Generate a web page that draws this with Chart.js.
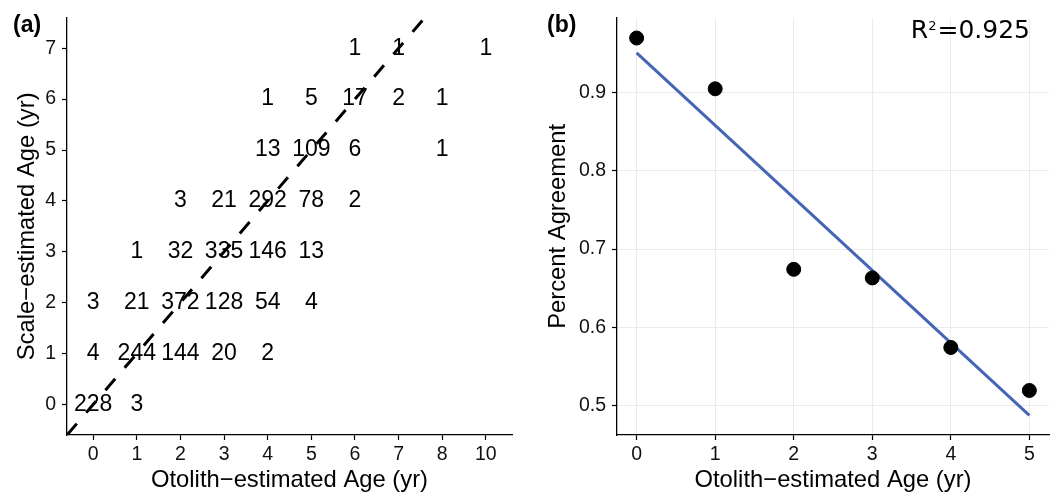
<!DOCTYPE html>
<html>
<head>
<meta charset="utf-8">
<script src="https://cdn.jsdelivr.net/npm/chart.js@4.4.1/dist/chart.umd.min.js"></script>
<style>
  html, body { margin: 0; padding: 0; background: #fff; }
  #wrap { position: relative; width: 1057px; height: 495px; }
  #chartA { position: absolute; left: 0; top: 0; }
  #chartB { position: absolute; left: 530px; top: 0; }
</style>
</head>
<body>
<div id="wrap">
  <canvas id="chartA" width="530" height="495"></canvas>
  <canvas id="chartB" width="527" height="495"></canvas>
</div>
<script>
// Panel (a): otolith age (columns) vs scale age (rows), fish counts
const otolithAges = ['0', '1', '2', '3', '4', '5', '6', '7', '8', '10'];
const scaleAges = ['0', '1', '2', '3', '4', '5', '6', '7'];
// one row per scale age, one entry per otolith age column
const ageCounts = [
  [228, 3, null, null, null, null, null, null, null, null],
  [4, 244, 144, 20, 2, null, null, null, null, null],
  [3, 21, 372, 128, 54, 4, null, null, null, null],
  [null, 1, 32, 335, 146, 13, null, null, null, null],
  [null, null, 3, 21, 292, 78, 2, null, null, null],
  [null, null, null, null, 13, 109, 6, null, 1, null],
  [null, null, null, null, 1, 5, 17, 2, 1, null],
  [null, null, null, null, null, null, 1, 1, null, 1]
];

// Panel (b): percent agreement by otolith age, with linear fit
const agreeAges = [0, 1, 2, 3, 4, 5];
const agreePct = [0.970, 0.905, 0.674, 0.663, 0.574, 0.519];
const fitAges = [0, 5];
const fitPct = [0.951, 0.487];
const agreeTicks = [0.5, 0.6, 0.7, 0.8, 0.9];
const fitR2 = '0.925';

const SANS = '"Liberation Sans", Arial, sans-serif';
const tickFont = { family: SANS, size: 19.5 };
const titleFont = { family: SANS, size: 23.8 };
const inkColor = '#111';

Chart.defaults.font.family = SANS;

// panel tag, "(a)" / "(b)"
const panelTag = (id, text, x) => ({
  id,
  afterDraw(chart) {
    const ctx = chart.ctx;
    ctx.save();
    ctx.font = 'bold 23px ' + SANS;
    ctx.fillStyle = '#000';
    ctx.textAlign = 'left';
    ctx.textBaseline = 'middle';
    ctx.fillText(text, x, 26);
    ctx.restore();
  }
});

// count numbers placed on the (otolith, scale) grid
const countLabels = {
  id: 'countLabels',
  afterDatasetsDraw(chart) {
    const { ctx, scales: { x, y } } = chart;
    ctx.save();
    ctx.font = '23px ' + SANS;
    ctx.fillStyle = '#000';
    ctx.textAlign = 'center';
    ctx.textBaseline = 'middle';
    ageCounts.forEach((row, yi) => row.forEach((n, xi) => {
      if (n == null) return;
      ctx.fillText(String(n), x.getPixelForValue(xi), y.getPixelForValue(yi));
    }));
    ctx.restore();
  }
};

// R^2 annotation with a superscript 2
const r2Label = {
  id: 'r2Label',
  afterDraw(chart) {
    const { ctx, chartArea } = chart;
    const big = '25px "DejaVu Sans", sans-serif';
    const small = '13px "DejaVu Sans", sans-serif';
    const rest = '=' + fitR2;
    ctx.save();
    ctx.fillStyle = '#000';
    ctx.textBaseline = 'alphabetic';
    ctx.textAlign = 'left';
    ctx.font = big;
    const wR = ctx.measureText('R').width;
    const wRest = ctx.measureText(rest).width;
    ctx.font = small;
    const wSup = ctx.measureText('2').width + 1;
    const right = chartArea.right - 19;
    const base = chartArea.top + 20;
    const x = right - wRest - wSup - wR;
    ctx.font = big;
    ctx.fillText('R', x, base);
    ctx.font = small;
    ctx.fillText('2', x + wR, base - 8);
    ctx.font = big;
    ctx.fillText(rest, x + wR + wSup, base);
    ctx.restore();
  }
};

const axisBorder = { display: true, color: '#000', width: 1.3 };

// Panel (a)
const pad = 0.6;
new Chart(document.getElementById('chartA'), {
  type: 'scatter',
  data: {
    datasets: [{
      // 1:1 line, clipped to the panel
      data: [{ x: -pad, y: -pad }, { x: otolithAges.length - 1 + pad, y: otolithAges.length - 1 + pad }],
      showLine: true,
      borderColor: '#000',
      borderWidth: 3,
      borderDash: [15, 14.5],
      pointRadius: 0
    }]
  },
  options: {
    responsive: false,
    animation: false,
    layout: { padding: { top: 17, right: 18, left: 0, bottom: 0 } },
    plugins: { legend: { display: false }, tooltip: { enabled: false } },
    scales: {
      x: {
        type: 'linear',
        min: -pad,
        max: otolithAges.length - 1 + pad,
        afterBuildTicks: s => { s.ticks = otolithAges.map((_, i) => ({ value: i })); },
        afterFit: s => { s.height = 60; },
        ticks: { callback: v => otolithAges[v], font: tickFont, color: inkColor, padding: 3, maxRotation: 0, autoSkip: false },
        grid: { drawOnChartArea: false, tickLength: 5, tickColor: '#000', tickWidth: 1.2 },
        border: axisBorder,
        title: { display: true, text: 'Otolith−estimated Age (yr)', font: titleFont, color: '#000', padding: { top: 0, bottom: 0 } }
      },
      y: {
        type: 'linear',
        min: -pad,
        max: scaleAges.length - 1 + pad,
        afterBuildTicks: s => { s.ticks = scaleAges.map((_, i) => ({ value: i })); },
        afterFit: s => { s.width = 67; },
        ticks: { callback: v => scaleAges[v], font: tickFont, color: inkColor, padding: 6, autoSkip: false },
        grid: { drawOnChartArea: false, tickLength: 5, tickColor: '#000', tickWidth: 1.2 },
        border: axisBorder,
        title: { display: true, text: 'Scale−estimated Age (yr)', font: titleFont, color: '#000', padding: { top: 13, bottom: 0 } }
      }
    }
  },
  plugins: [countLabels, panelTag('tagA', '(a)', 13)]
});

// Panel (b)
new Chart(document.getElementById('chartB'), {
  type: 'scatter',
  data: {
    datasets: [
      {
        data: agreeAges.map((a, i) => ({ x: a, y: agreePct[i] })),
        backgroundColor: '#000',
        borderColor: '#000',
        pointRadius: 7,
        pointHoverRadius: 7
      },
      {
        data: fitAges.map((a, i) => ({ x: a, y: fitPct[i] })),
        showLine: true,
        borderColor: '#4566B4',
        borderWidth: 3,
        pointRadius: 0
      }
    ]
  },
  options: {
    responsive: false,
    animation: false,
    layout: { padding: { top: 17, right: 8, left: 0, bottom: 0 } },
    plugins: { legend: { display: false }, tooltip: { enabled: false } },
    scales: {
      x: {
        type: 'linear',
        min: -0.25,
        max: 5.25,
        afterBuildTicks: s => { s.ticks = agreeAges.map(a => ({ value: a })); },
        afterFit: s => { s.height = 60; },
        ticks: { callback: v => String(v), font: tickFont, color: inkColor, padding: 3, maxRotation: 0, autoSkip: false },
        grid: { color: '#ebebeb', lineWidth: 1, tickLength: 5, tickColor: '#000', tickWidth: 1.2 },
        border: axisBorder,
        title: { display: true, text: 'Otolith−estimated Age (yr)', font: titleFont, color: '#000', padding: { top: 0, bottom: 0 } }
      },
      y: {
        type: 'linear',
        min: 0.462,
        max: 0.996,
        afterBuildTicks: s => { s.ticks = agreeTicks.map(v => ({ value: v })); },
        afterFit: s => { s.width = 87; },
        ticks: { callback: v => v.toFixed(1), font: tickFont, color: inkColor, padding: 6, autoSkip: false },
        grid: { color: '#ebebeb', lineWidth: 1, tickLength: 5, tickColor: '#000', tickWidth: 1.2 },
        border: axisBorder,
        title: { display: true, text: 'Percent Agreement', font: titleFont, color: '#000', padding: { top: 14, bottom: 0 } }
      }
    }
  },
  plugins: [r2Label, panelTag('tagB', '(b)', 17)]
});
</script>
</body>
</html>
